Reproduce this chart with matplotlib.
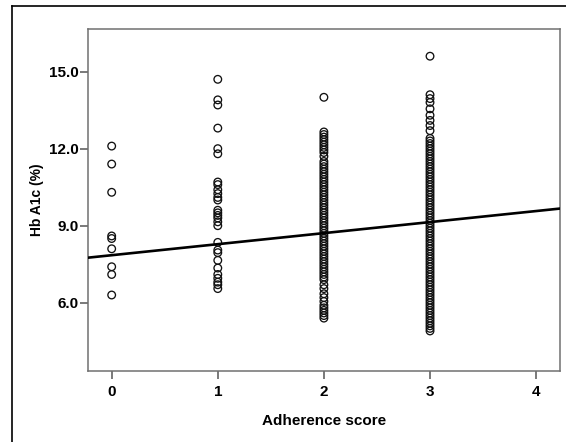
import numpy as np
import matplotlib.pyplot as plt
from matplotlib.lines import Line2D

# data
score_0 = [12.1, 11.4, 10.3, 8.6, 8.5, 8.1, 7.4, 7.1, 6.3]
score_1 = [14.7, 13.9, 13.7, 12.8, 12.0, 11.8, 10.7, 10.6, 10.4, 10.25, 10.1, 10.0,
           9.6, 9.5, 9.4, 9.3, 9.15, 9.0, 8.35, 8.05, 7.95, 7.65, 7.35, 7.1, 6.95,
           6.8, 6.7, 6.55]
score_2 = [14.0, 12.65, 12.55, 12.45, 12.35, 12.25, 12.15, 12.05, 11.95, 11.85, 11.7,
           11.5, 11.4, 11.3, 11.2, 11.1, 11.0, 10.9, 10.8, 10.7, 10.6, 10.5, 10.4,
           10.3, 10.2, 10.1, 10.0, 9.9, 9.8, 9.7, 9.6, 9.5, 9.4, 9.3, 9.2, 9.1, 9.0,
           8.9, 8.8, 8.7, 8.6, 8.5, 8.4, 8.3, 8.2, 8.1, 8.0, 7.9, 7.8, 7.7, 7.6, 7.5,
           7.4, 7.3, 7.2, 7.1, 7.0, 6.9, 6.7, 6.55, 6.35, 6.2, 6.05, 5.9, 5.8, 5.7,
           5.6, 5.5, 5.4]
score_3 = [15.6, 14.1, 13.95, 13.8, 13.55, 13.3, 13.1, 12.9, 12.7, 12.4, 12.3, 12.2,
           12.1, 12.0, 11.9, 11.8, 11.7, 11.6, 11.5, 11.4, 11.3, 11.2, 11.1, 11.0,
           10.9, 10.8, 10.7, 10.6, 10.5, 10.4, 10.3, 10.2, 10.1, 10.0, 9.9, 9.8,
           9.7, 9.6, 9.5, 9.4, 9.3, 9.2, 9.1, 9.0, 8.9, 8.8, 8.7, 8.6, 8.5, 8.4,
           8.3, 8.2, 8.1, 8.0, 7.9, 7.8, 7.7, 7.6, 7.5, 7.4, 7.3, 7.2, 7.1, 7.0,
           6.9, 6.8, 6.7, 6.6, 6.5, 6.4, 6.3, 6.2, 6.1, 6.0, 5.9, 5.8, 5.7, 5.6,
           5.5, 5.4, 5.3, 5.2, 5.1, 5.0, 4.9]
groups = [score_0, score_1, score_2, score_3]
scores = [0, 1, 2, 3]

# fitted line
fit_intercept = 7.85
fit_slope = 0.43

x_ticks = [0, 1, 2, 3, 4]
y_ticks = [6.0, 9.0, 12.0, 15.0]

plt.rcParams['font.family'] = ['Liberation Sans', 'DejaVu Sans']

fig = plt.figure(figsize=(5.66, 4.42), dpi=100)
ax = fig.add_axes([0.1555, 0.1606, 0.8339, 0.7738])

for s, vals in zip(scores, groups):
    ax.scatter([s] * len(vals), vals, s=30, facecolors='none',
               edgecolors='#111111', linewidths=0.95, zorder=2)

xmin, xmax = -0.223, 4.225
xs = np.array([xmin, xmax])
ax.plot(xs, fit_intercept + fit_slope * xs, color='black', lw=1.9, zorder=3)

ax.set_xlim(xmin, xmax)
ax.set_ylim(3.34, 16.66)
ax.set_xticks(x_ticks)
ax.set_yticks(y_ticks)
ax.set_xticklabels([str(t) for t in x_ticks], fontsize=11, fontweight='bold')
ax.set_yticklabels(['%.1f' % t for t in y_ticks], fontsize=11, fontweight='bold')
ax.tick_params(length=6, width=1.1, color='#555555')
ax.tick_params(axis='x', pad=4)
ax.tick_params(axis='y', pad=1)
for sp in ax.spines.values():
    sp.set_color('#707070')
    sp.set_linewidth(1.1)

ax.set_xlabel('Adherence score', fontsize=11, fontweight='bold', labelpad=11)
ax.set_ylabel('Hb A1c (%)', fontsize=10, fontweight='bold', labelpad=3)

# outer frame (left and top edges only visible)
fig.add_artist(Line2D([12 / 566, 12 / 566], [0, 1 - 6 / 442], transform=fig.transFigure,
                      color='black', lw=1.2))
fig.add_artist(Line2D([12 / 566, 1], [1 - 6 / 442, 1 - 6 / 442], transform=fig.transFigure,
                      color='black', lw=1.2))

fig.savefig('out.png', dpi=100)
